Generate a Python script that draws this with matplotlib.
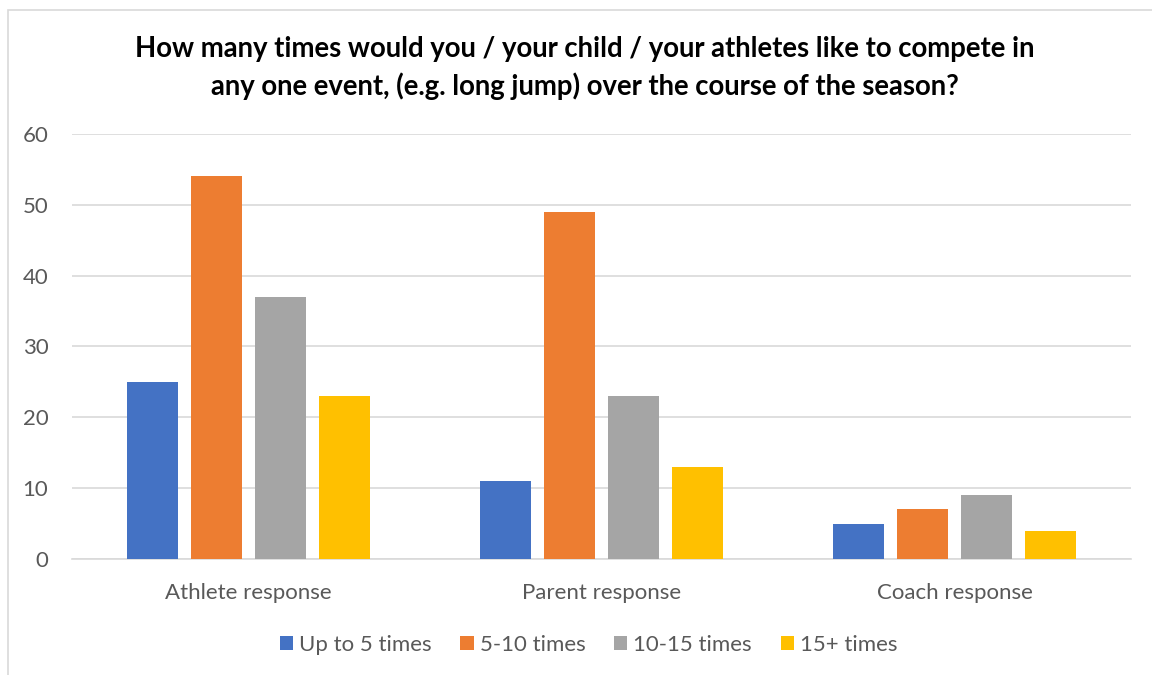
import matplotlib.pyplot as plt
import matplotlib.patches as mpatches
import numpy as np

plt.rcParams['font.family'] = ['Lato', 'DejaVu Sans']

# Survey answers per respondent group
categories = ['Athlete response', 'Parent response', 'Coach response']
series_names = ['Up to 5 times', '5-10 times', '10-15 times', '15+ times']
up_to_5 = [25, 11, 5]
five_to_10 = [54, 49, 7]
ten_to_15 = [37, 23, 9]
fifteen_plus = [23, 13, 4]
colors = ['#4472C4', '#ED7D31', '#A5A5A5', '#FFC000']

fig = plt.figure(figsize=(11.52, 6.75), dpi=100)
ax = fig.add_axes([0.0625, 0.1719, 0.9193, 0.6296])

# chart border (only left/top edges visible)
fig.patches.append(mpatches.Rectangle((8 / 1152, -0.1), 1.2, 1 - 10 / 675 + 0.1,
                                      transform=fig.transFigure, fill=False,
                                      edgecolor='#D9D9D9', linewidth=1.2))

x = np.arange(len(categories))
width = 0.145
step = 0.1815
for i, (vals, name) in enumerate(zip([up_to_5, five_to_10, ten_to_15, fifteen_plus], series_names)):
    ax.bar(x + (i - 1.5) * step, vals, width, color=colors[i], label=name, zorder=3)

ax.set_xlim(-0.5, 2.5)
ax.set_ylim(0, 60)
ax.set_yticks(range(0, 61, 10))
ax.yaxis.grid(True, color='#D9D9D9', linewidth=1.2, zorder=0)
for s in ['top', 'right', 'left']:
    ax.spines[s].set_visible(False)
ax.spines['bottom'].set_color('#D9D9D9')
ax.spines['bottom'].set_linewidth(1.2)
ax.tick_params(axis='both', length=0, labelsize=16, colors='#595959')
ax.tick_params(axis='x', pad=17)
ax.tick_params(axis='y', pad=17)
ax.set_xticks(x)
ax.set_xticklabels(categories)

fig.text(0.508, 0.899, 'How many times would you / your child / your athletes like to compete in\n'
         'any one event, (e.g. long jump) over the course of the season?',
         ha='center', va='center', fontsize=19.8, fontweight='bold', color='black',
         linespacing=1.45)

fig.legend(loc='center', bbox_to_anchor=(0.511, 0.045), ncol=4, frameon=False,
           fontsize=16, labelcolor='#595959', handlelength=0.59, handleheight=0.59,
           handletextpad=0.27, columnspacing=1.3)

fig.savefig('out.png', dpi=100)
